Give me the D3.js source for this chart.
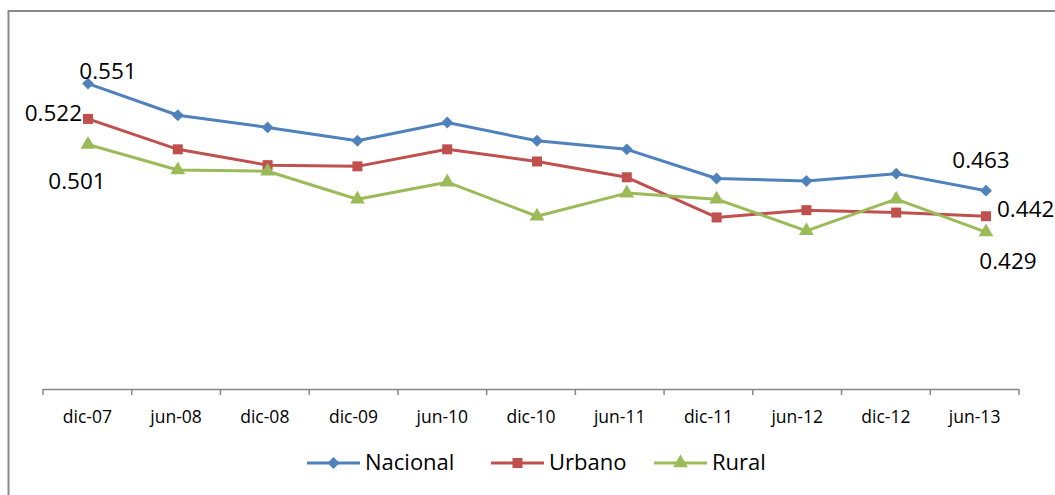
<!DOCTYPE html>
<html lang="es">
  <head>
    <meta charset="utf-8">
    <title>Nacional / Urbano / Rural</title>
    <script type="text/javascript" src="https://d3js.org/d3.v7.min.js"></script>
    <style>
    body {
      margin:0;
      background-color:#ffffff;
    }
    svg text {
      font-family:"Open Sans", "Noto Sans", sans-serif;
      fill:#000000;
    }
    </style>
  </head>
  <body>
    <div id="chart"></div>
    <script type="text/javascript">
    // datos
    const categories = ["dic-07", "jun-08", "dic-08", "dic-09", "jun-10", "dic-10", "jun-11", "dic-11", "jun-12", "dic-12", "jun-13"];
    const nacional = [0.551, 0.525, 0.515, 0.504, 0.519, 0.504, 0.497, 0.473, 0.471, 0.477, 0.463];
    const urbano = [0.522, 0.497, 0.484, 0.483, 0.497, 0.487, 0.474, 0.441, 0.447, 0.445, 0.442];
    const rural = [0.501, 0.480, 0.479, 0.456, 0.470, 0.442, 0.461, 0.456, 0.430, 0.456, 0.429];
    const seriesNames = ["Nacional", "Urbano", "Rural"];
    const yDomain = [0.3, 0.6];

    const width = 1055, height = 495;
    const colors = {"Nacional": "#4F81BD", "Urbano": "#C0504D", "Rural": "#9BBB59"};
    const symbols = {"Nacional": d3.symbolDiamond2, "Urbano": d3.symbolSquare, "Rural": d3.symbolTriangle};
    const symbolSize = {"Nacional": 90, "Urbano": 100, "Rural": 95};
    const series = [
      {name: "Nacional", values: nacional},
      {name: "Urbano", values: urbano},
      {name: "Rural", values: rural}
    ];

    const svg = d3.select("#chart").append("svg").attr("width", width).attr("height", height);

    // marco del gráfico
    svg.append("rect").attr("x", 8.5).attr("y", 11).attr("width", 1080).attr("height", 520)
      .attr("fill", "none").attr("stroke", "#898989").attr("stroke-width", 2);

    // el eje y los puntos no tienen exactamente el mismo paso en el original
    const xScale = d3.scaleBand().domain(categories).range([43, 1019]);
    const xPoint = d3.scalePoint().domain(categories).range([88, 986]);
    const yScale = d3.scaleLinear().domain(yDomain).range([389, 24]);
    const cx = d => xScale(d) + xScale.bandwidth() / 2;

    // eje X con marcas entre categorías
    const axis = svg.append("g").attr("class", "axis");
    axis.append("line").attr("x1", xScale.range()[0]).attr("x2", xScale.range()[1])
      .attr("y1", yScale(yDomain[0]) + 0.5).attr("y2", yScale(yDomain[0]) + 0.5)
      .attr("stroke", "#868686").attr("stroke-width", 1.5);
    const edges = categories.map(c => xScale(c)).concat([xScale.range()[1]]);
    axis.selectAll("line.tick").data(edges).join("line").attr("class", "tick")
      .attr("x1", d => d).attr("x2", d => d)
      .attr("y1", yScale(yDomain[0])).attr("y2", yScale(yDomain[0]) + 6)
      .attr("stroke", "#868686").attr("stroke-width", 1.5);
    axis.selectAll("text").data(categories).join("text")
      .attr("x", d => cx(d)).attr("y", 423).attr("text-anchor", "middle")
      .attr("font-size", "17.5px").text(d => d);

    // líneas y marcadores
    const line = d3.line().x((d, i) => xPoint(categories[i])).y(d => yScale(d));
    series.forEach(s => {
      svg.append("path").datum(s.values)
        .attr("fill", "none").attr("stroke", colors[s.name]).attr("stroke-width", 3)
        .attr("stroke-linejoin", "round").attr("d", line);
      svg.selectAll(null).data(s.values).join("path")
        .attr("transform", (d, i) => `translate(${xPoint(categories[i])},${yScale(d)})`)
        .attr("fill", colors[s.name])
        .attr("d", d3.symbol().type(symbols[s.name]).size(symbolSize[s.name]));
    });

    // etiquetas de datos (primer y último punto)
    const labelOffsets = {
      "Nacional": [[20, -5, "middle"], [-5, -23, "middle"]],
      "Urbano": [[-6, 2, "end"], [11, 1, "start"]],
      "Rural": [[-11, 45, "middle"], [22, 37, "middle"]]
    };
    series.forEach(s => {
      const last = s.values.length - 1;
      [0, last].forEach((idx, k) => {
        const o = labelOffsets[s.name][k];
        svg.append("text")
          .attr("x", xPoint(categories[idx]) + o[0]).attr("y", yScale(s.values[idx]) + o[1])
          .attr("text-anchor", o[2]).attr("font-size", "22.5px")
          .text(d3.format(".3f")(s.values[idx]));
      });
    });

    // leyenda
    const legendX = {"Nacional": 307, "Urbano": 491, "Rural": 654};
    const legend = svg.append("g").attr("class", "legend");
    seriesNames.forEach(name => {
      const x0 = legendX[name];
      legend.append("line").attr("x1", x0).attr("x2", x0 + 53).attr("y1", 463).attr("y2", 463)
        .attr("stroke", colors[name]).attr("stroke-width", 3);
      legend.append("path").attr("transform", `translate(${x0 + 26.5},463)`).attr("fill", colors[name])
        .attr("d", d3.symbol().type(symbols[name]).size(symbolSize[name]));
      legend.append("text").attr("x", x0 + 58).attr("y", 470).attr("font-size", "22px").text(name);
    });
    </script>
  </body>
</html>
